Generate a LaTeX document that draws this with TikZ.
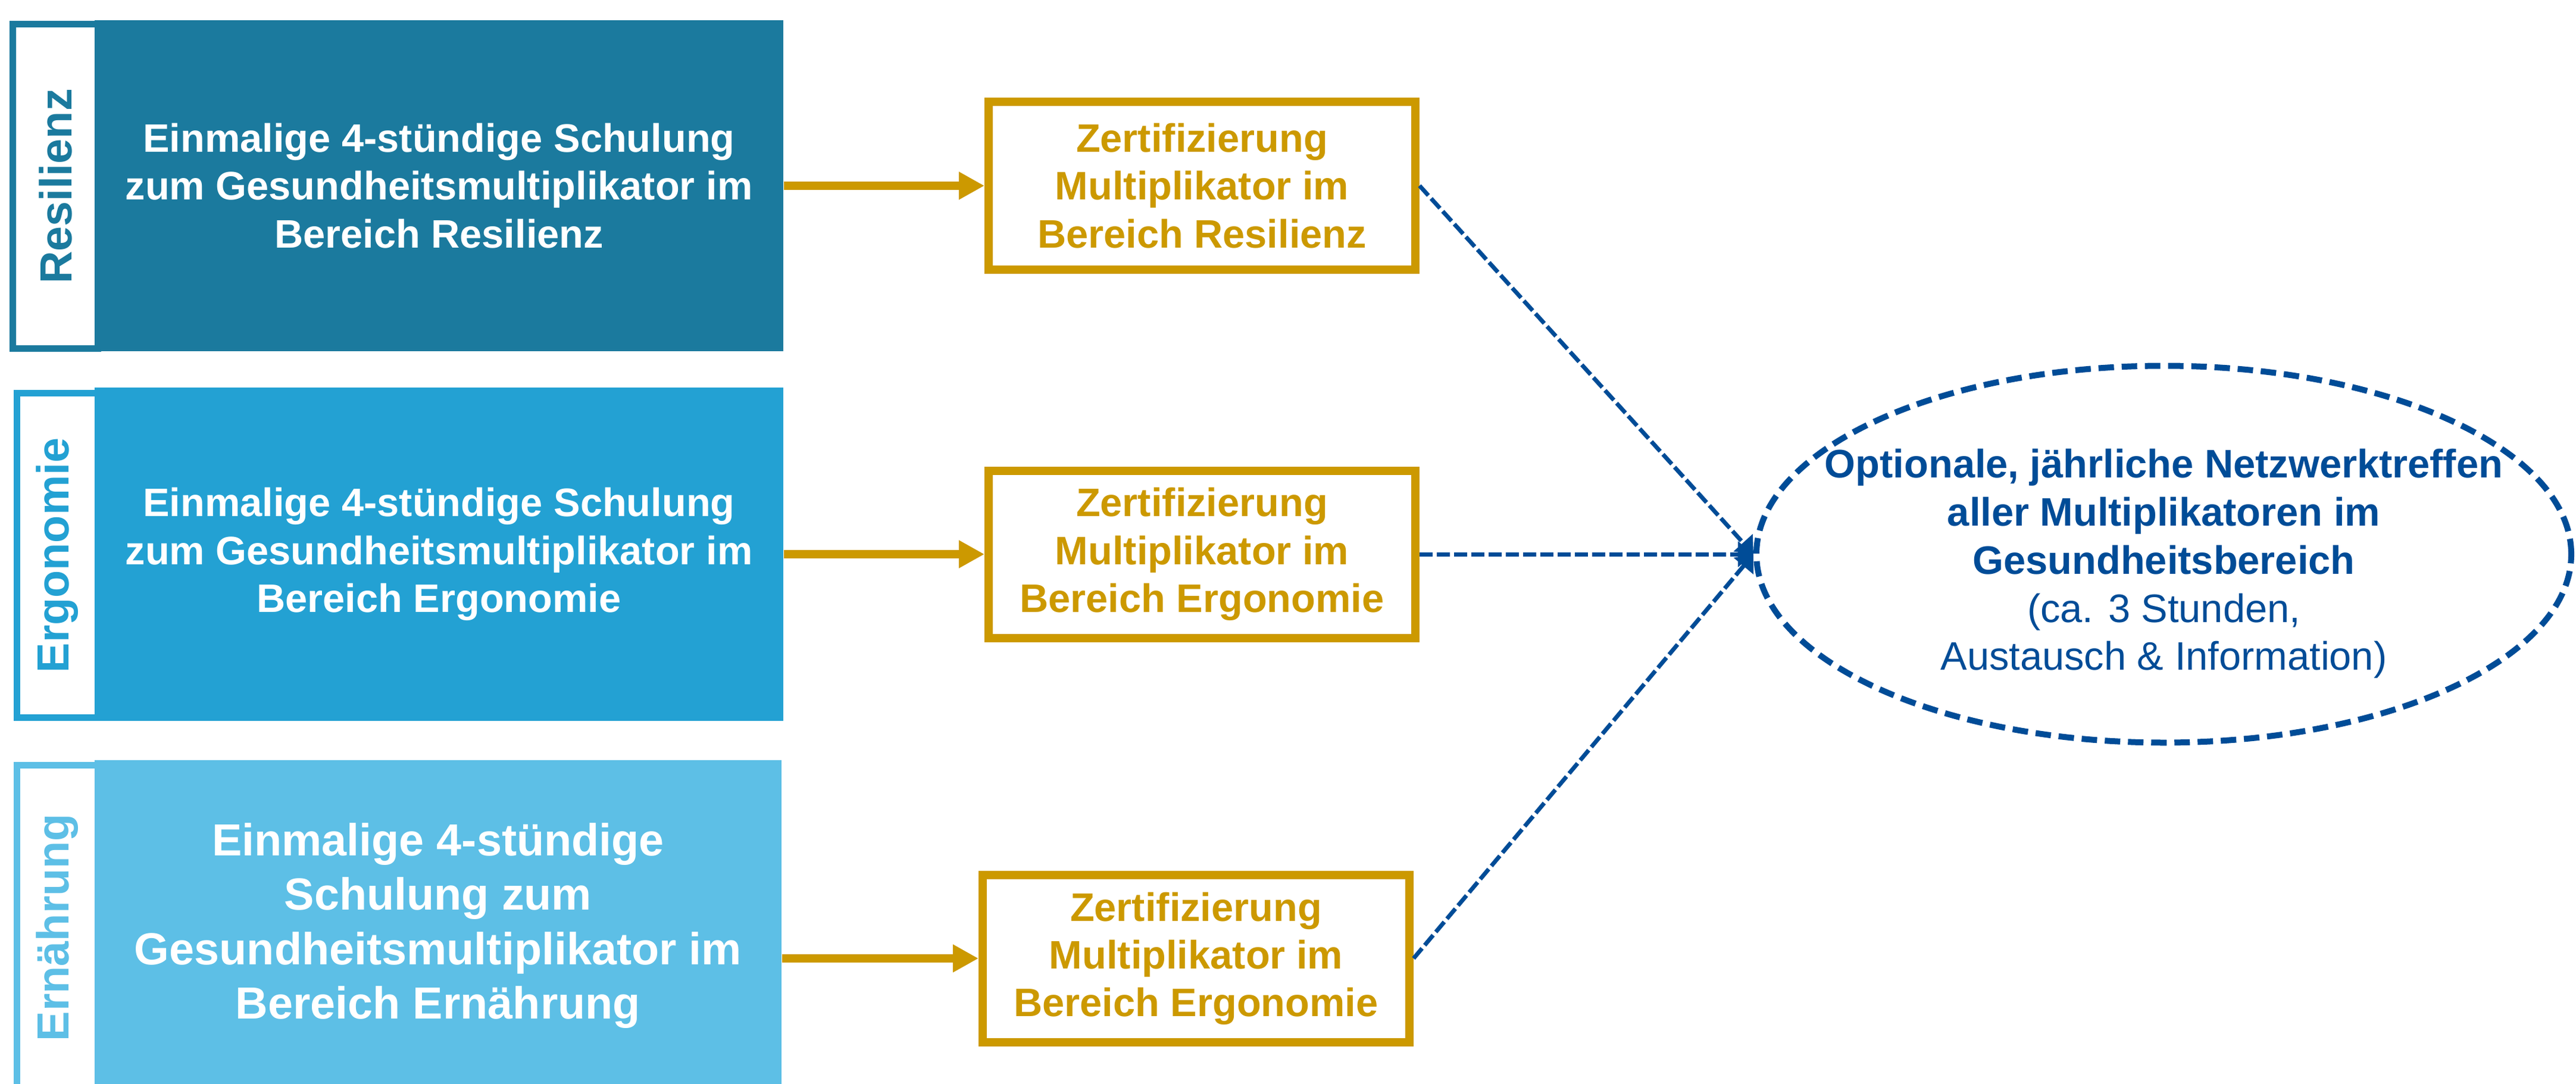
\documentclass[tikz,border=0pt]{standalone}
\usepackage{fontspec}
\setmainfont{Liberation Sans}
\usepackage{xcolor}
\usepackage{tikz}
\usetikzlibrary{positioning, shapes, arrows.meta}
\definecolor{ResilienzBlue}{RGB}{27, 122, 158}
\definecolor{ErgonomieBlue}{RGB}{35, 161, 211}
\definecolor{ErnaehrungBlue}{RGB}{93, 191, 230}
\definecolor{ZertGold}{RGB}{204, 153, 0}
\definecolor{TreffenBlue}{RGB}{0, 76, 151}
\tikzset{
	schulung/.style={fill=#1, draw=none, inner sep=0pt, minimum width=11.57cm, text=white, align=center, font=\bfseries\fontsize{19}{22.8}\selectfont},
	bereich/.style={draw=#1, fill=white, line width=0.11cm, rotate=90, inner sep=0pt, minimum width=5.45cm, minimum height=1.36cm, text=#1, font=\bfseries\fontsize{21.5}{25}\selectfont},
	zert/.style={draw=ZertGold, fill=white, line width=0.14cm, inner sep=0pt, minimum width=7.17cm, minimum height=2.81cm, text=ZertGold, align=center, font=\bfseries\fontsize{19}{22.8}\selectfont},
	pfeil/.style={draw=ZertGold, line width=0.14cm, -{Triangle[length=0.43cm, width=0.44cm]}},
	netz/.style={draw=TreffenBlue, line width=0.07cm, dash pattern=on 0.22cm off 0.07cm, -{Triangle[length=0.26cm, width=0.42cm]}},
}

\begin{document}
\begin{tikzpicture}
	\useasboundingbox (0,0) rectangle (43.28,18.20);
	% Schulungen
	\node[schulung=ResilienzBlue, minimum height=5.55cm] (schulRes) at (7.375,15.08) {Einmalige 4-stündige Schulung\\zum Gesundheitsmultiplikator im\\Bereich Resilienz};
	\node[schulung=ErgonomieBlue, minimum height=5.60cm] (schulErg) at (7.375,8.89) {Einmalige 4-stündige Schulung\\zum Gesundheitsmultiplikator im\\Bereich Ergonomie};
	\node[schulung=ErnaehrungBlue, minimum height=5.56cm, minimum width=11.54cm, font=\bfseries\fontsize{21.5}{26}\selectfont] (schulErn) at (7.36,2.65) {Einmalige 4-stündige\\Schulung zum\\Gesundheitsmultiplikator im\\Bereich Ernährung};
	
	\node[bereich=ResilienzBlue, minimum height=1.43cm] (labRes) at (0.93,15.07) {Resilienz};
	\node[bereich=ErgonomieBlue] (labErg) at (0.965,8.87) {Ergonomie};
	\node[bereich=ErnaehrungBlue] (labErn) at (0.965,2.62) {Ernährung};
	
	% Zertifizierung
	\node[zert] (zertRes) at (20.195,15.08) {Zertifizierung\\Multiplikator im\\Bereich Resilienz};
	\node[zert] (zertErg) at (20.195,8.89) {Zertifizierung\\Multiplikator im\\Bereich Ergonomie};
	\node[zert] (zertErn) at (20.095,2.10) {Zertifizierung\\Multiplikator im\\Bereich Ergonomie};
	
	\draw[pfeil] (schulRes.east) -- (zertRes.west);
	\draw[pfeil] (schulErg.east) -- (zertErg.west);
	\draw[pfeil] (schulErn.east |- zertErn.west) -- (zertErn.west);
	
	% Netzwerktreffen
	\node[ellipse, draw=TreffenBlue, line width=0.10cm, dash pattern=on 0.26cm off 0.13cm, inner sep=0pt, minimum width=13.69cm, minimum height=6.33cm] (treffen) at (36.355,8.89) {};
	\node[text=TreffenBlue, align=center, font=\bfseries\fontsize{19}{23}\selectfont] (treffenText) at ([yshift=-0.16cm]treffen.center) {Optionale, jährliche Netzwerktreffen\\aller Multiplikatoren im\\Gesundheitsbereich\\\mdseries(ca. 3 Stunden,\\\mdseries Austausch \& Information)};
	
	\draw[netz] (zertRes.east) -- (treffen.west);
	\draw[netz] (zertErg.east) -- (treffen.west);
	\draw[netz] (zertErn.east) -- (treffen.west);
\end{tikzpicture}
\end{document}
